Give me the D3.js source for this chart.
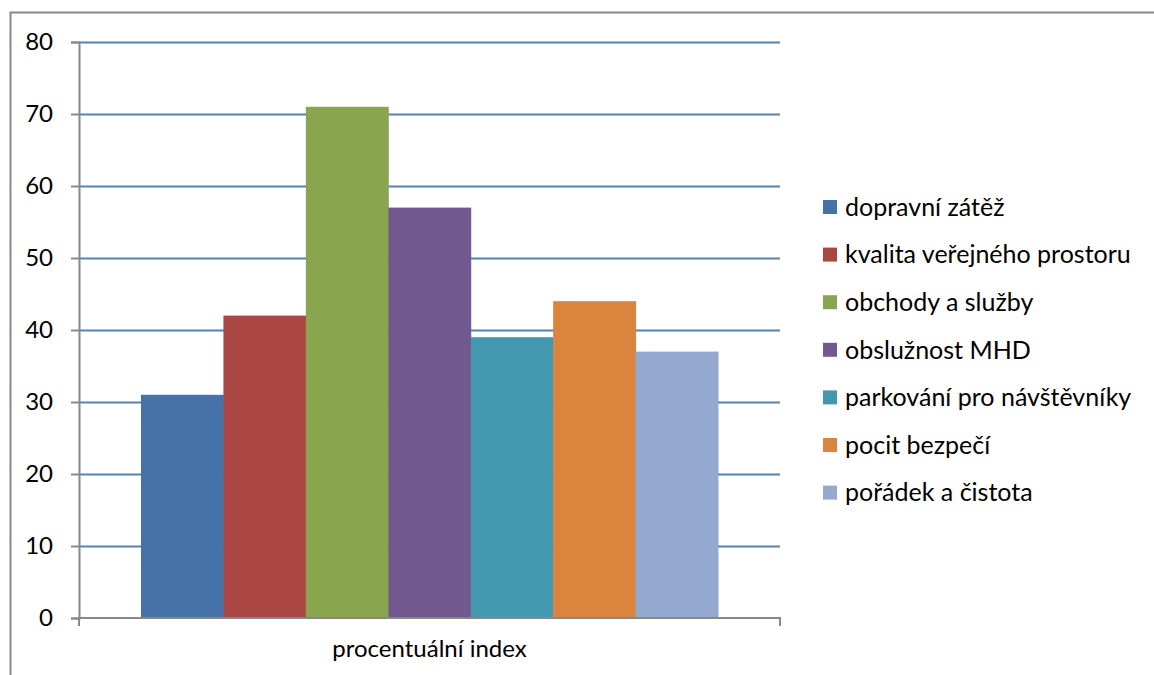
<!DOCTYPE html>
<html>
<head>
<meta charset="utf-8">
<script src="https://cdn.jsdelivr.net/npm/d3@7"></script>
<style>
  html, body { margin: 0; padding: 0; background: #fff; }
  svg { display: block; font-family: Lato, "Open Sans", sans-serif; }
</style>
</head>
<body>
<svg id="chart" width="1154" height="675"></svg>
<script>
const category = "procentuální index";
const seriesNames = ["dopravní zátěž", "kvalita veřejného prostoru", "obchody a služby", "obslužnost MHD", "parkování pro návštěvníky", "pocit bezpečí", "pořádek a čistota"];
const seriesValues = [31, 42, 71, 57, 39, 44, 37];
const seriesColors = ["#4572a7", "#aa4643", "#89a54e", "#71588f", "#4198af", "#db843d", "#93a9cf"];
const yTicks = [0, 10, 20, 30, 40, 50, 60, 70, 80];

(function () {
const svg = d3.select("#chart");
const pLeft = 79, pRight = 780, pTop = 42, pBottom = 618;
const fontSize = 24;

// outer border
svg.append("path")
  .attr("d", "M10.5,675 V12.5 H1154")
  .attr("fill", "none").attr("stroke", "#888").attr("stroke-width", 2);

const y = d3.scaleLinear().domain([0, 80]).range([pBottom, pTop]);
const x0 = d3.scaleBand().domain([category]).range([pLeft, pRight]).paddingInner(0).paddingOuter(0);
const groupPad = 62;
const x1 = d3.scaleBand().domain(seriesNames)
  .range([x0(category) + groupPad, x0(category) + x0.bandwidth() - groupPad]).padding(0);

// gridlines
svg.append("g").selectAll("line").data(yTicks.filter(d => d > 0)).join("line")
  .attr("x1", pLeft).attr("x2", pRight)
  .attr("y1", d => Math.round(y(d)) + 0.5).attr("y2", d => Math.round(y(d)) + 0.5)
  .attr("stroke", "#4f81bd").attr("stroke-width", 2);

// bars
svg.append("g").selectAll("rect").data(seriesValues).join("rect")
  .attr("x", (d, i) => x1(seriesNames[i]))
  .attr("width", x1.bandwidth() + 0.5)
  .attr("y", d => y(d))
  .attr("height", d => y(0) - y(d))
  .attr("fill", (d, i) => seriesColors[i]);

// y axis
const yAxis = svg.append("g").attr("transform", `translate(${pLeft},0)`)
  .call(d3.axisLeft(y).tickValues(yTicks).tickSize(8).tickPadding(18));
yAxis.select(".domain").attr("stroke", "#888").attr("stroke-width", 2);
yAxis.selectAll(".tick line").attr("stroke", "#888").attr("stroke-width", 2);
yAxis.selectAll("text").attr("font-size", fontSize).attr("fill", "#000").attr("font-family", "Lato, 'Open Sans', sans-serif");

// x axis
const xAxis = svg.append("g").attr("transform", `translate(0,${pBottom})`)
  .call(d3.axisBottom(x0).tickSize(0).tickPadding(22));
xAxis.select(".domain").remove();
svg.append("path")
  .attr("d", `M${pLeft},${pBottom + 8} V${pBottom} H${pRight} V${pBottom + 8}`)
  .attr("fill", "none").attr("stroke", "#888").attr("stroke-width", 2);
xAxis.selectAll("text").attr("font-size", fontSize).attr("fill", "#000").attr("font-family", "Lato, 'Open Sans', sans-serif");

// legend
const legend = svg.append("g").selectAll("g").data(seriesNames).join("g")
  .attr("transform", (d, i) => `translate(823,${207 + i * 47.6})`);
legend.append("rect").attr("x", 0).attr("y", -7).attr("width", 14).attr("height", 14)
  .attr("fill", (d, i) => seriesColors[i]);
legend.append("text").attr("x", 22).attr("dy", "0.35em").attr("font-size", 25)
  .attr("fill", "#000").text(d => d);
})();
</script>
</body>
</html>
